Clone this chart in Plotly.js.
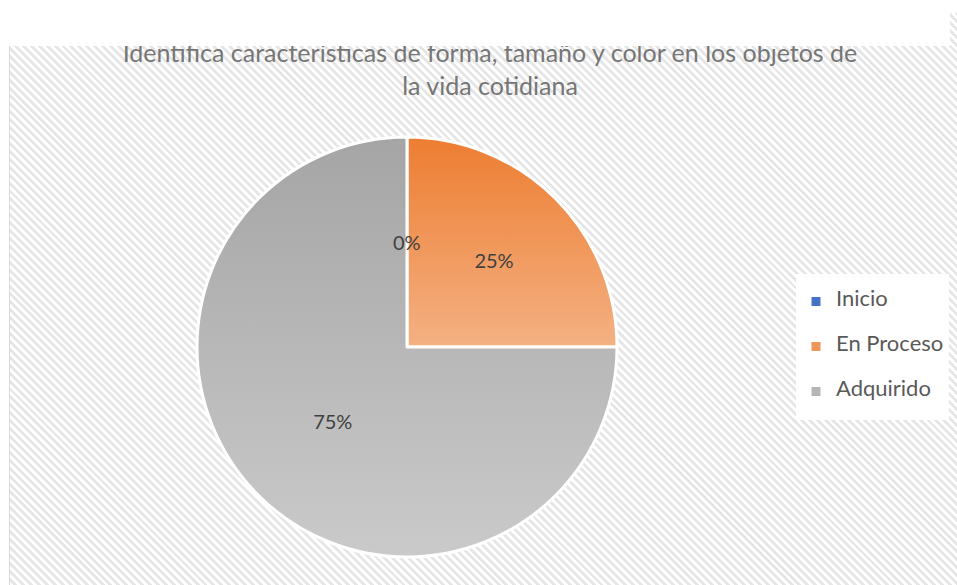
<!DOCTYPE html>
<html><head><meta charset="utf-8">
<script src="https://cdn.plot.ly/plotly-3.0.1.min.js"></script>
<style>
html,body{margin:0;padding:0;background:#fff;width:957px;height:585px;overflow:hidden;}
#hatch{position:absolute;left:9px;top:13px;width:948px;height:572px;border-left:1px solid #d9d9d9;box-sizing:border-box;
background:repeating-linear-gradient(45deg,#ffffff 0px,#ffffff 2.8px,#e6e6e6 2.8px,#e6e6e6 5.6px);}
#chart{position:absolute;left:0;top:0;width:957px;height:585px;}
#cover{position:absolute;left:0;top:0;width:950px;height:46px;background:#fff;z-index:5;}
</style></head>
<body>
<div id="hatch"></div>
<div id="chart"></div>
<div id="cover"></div>
<script>
const categories = ['Inicio', 'En Proceso', 'Adquirido'];
const values = [0, 25, 75];
const baseColors = ['#4472C4', '#F0955A', '#B5B5B5'];
const gradTop = ['#4472C4', '#ED7D31', '#A5A5A5'];
const gradBottom = ['#8FAADC', '#F4B183', '#CACACA'];
const titleText = 'Identifica características de forma, tamaño y color en los objetos de<br>la vida cotidiana';

const FONT = 'Lato, "Open Sans", sans-serif';
const W = 957, H = 585;
const dx = [197 / W, 617 / W];
const dy = [1 - 557 / H, 1 - 137 / H];

const total = values.reduce((a, b) => a + b, 0);
const legendLabels = categories.map(c => '<br><span style="font-size:22px">' + c + '</span><br> ');

const annotations = [];
values.forEach((v, i) => {
  if (v === 0) {
    let before = 0;
    for (let k = 0; k < i; k++) before += values[k];
    const ang = before / total * 2 * Math.PI;
    const cx = (dx[0] + dx[1]) / 2, cy = (dy[0] + dy[1]) / 2;
    const rX = (dx[1] - dx[0]) / 2, rY = (dy[1] - dy[0]) / 2;
    annotations.push({
      xref: 'paper', yref: 'paper',
      x: cx + 0.5 * rX * Math.sin(ang), y: cy + 0.5 * rY * Math.cos(ang),
      text: Math.round(v / total * 100) + '%', showarrow: false,
      font: {family: FONT, size: 20, color: '#404040'}
    });
  }
});

const trace = {
  type: 'pie',
  labels: legendLabels,
  values: values,
  sort: false,
  direction: 'clockwise',
  rotation: 0,
  domain: {x: dx, y: dy},
  marker: {colors: baseColors, line: {color: '#ffffff', width: 3}},
  textinfo: 'percent',
  textposition: 'inside',
  insidetextorientation: 'horizontal',
  textfont: {family: FONT, size: 20, color: '#404040'},
  hoverinfo: 'none'
};

const layout = {
  width: W, height: H,
  margin: {l: 0, r: 0, t: 0, b: 0},
  paper_bgcolor: 'rgba(0,0,0,0)',
  plot_bgcolor: 'rgba(0,0,0,0)',
  title: {
    text: titleText,
    x: 490 / W, xanchor: 'center', xref: 'paper',
    y: 1 - 62 / H, yanchor: 'top', yref: 'container',
    font: {family: FONT, size: 25, color: '#767676'}
  },
  showlegend: true,
  legend: {
    x: 796 / W, xanchor: 'left',
    y: 1 - 347 / H, yanchor: 'middle',
    bgcolor: '#ffffff',
    font: {family: FONT, size: 10.77, color: '#595959'},
    traceorder: 'normal'
  },
  annotations: annotations
};

Plotly.newPlot('chart', [trace], layout, {displayModeBar: false, staticPlot: true}).then(function (gd) {
  const svg = gd.querySelector('.main-svg');
  const ns = 'http://www.w3.org/2000/svg';
  let defs = svg.querySelector('defs');
  if (!defs) { defs = document.createElementNS(ns, 'defs'); svg.insertBefore(defs, svg.firstChild); }
  categories.forEach((c, i) => {
    const lg = document.createElementNS(ns, 'linearGradient');
    lg.setAttribute('id', 'sliceGrad' + i);
    lg.setAttribute('x1', '0'); lg.setAttribute('y1', '0');
    lg.setAttribute('x2', '0'); lg.setAttribute('y2', '1');
    [[0, gradTop[i]], [1, gradBottom[i]]].forEach(s => {
      const st = document.createElementNS(ns, 'stop');
      st.setAttribute('offset', s[0]);
      st.setAttribute('stop-color', s[1]);
      lg.appendChild(st);
    });
    defs.appendChild(lg);
  });
  gd.querySelectorAll('g.slice').forEach(g => {
    const d = g.__data__;
    const p = g.querySelector('path.surface');
    if (d && p && typeof d.i === 'number') p.style.fill = 'url(#sliceGrad' + d.i + ')';
  });
});
</script>
</body></html>
